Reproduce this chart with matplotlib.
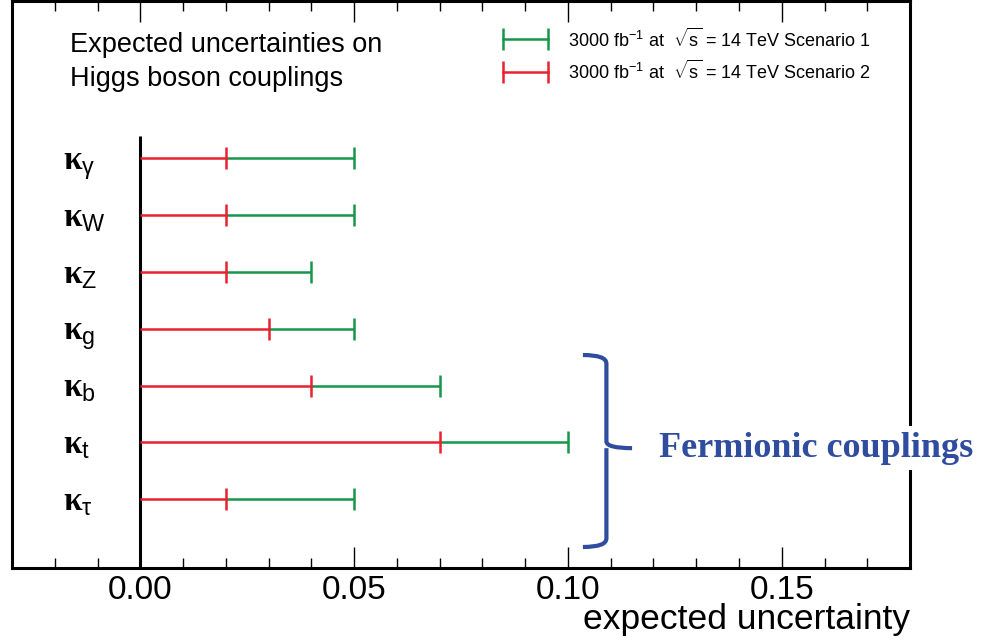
import matplotlib
matplotlib.use("Agg")
import matplotlib.pyplot as plt
import matplotlib.transforms as mtransforms
from matplotlib.path import Path
from matplotlib.patches import PathPatch

plt.rcParams['font.family'] = ['Liberation Sans', 'DejaVu Sans']
plt.rcParams['mathtext.fontset'] = 'custom'
plt.rcParams['mathtext.rm'] = 'Liberation Sans'
plt.rcParams['mathtext.it'] = 'Liberation Sans:italic'
plt.rcParams['mathtext.bf'] = 'Liberation Serif:bold'

## donnees
couplings = [r'$\mathbf{\kappa}_{\mathrm{\gamma}}$', r'$\mathbf{\kappa}_{\mathrm{W}}$',
             r'$\mathbf{\kappa}_{\mathrm{Z}}$', r'$\mathbf{\kappa}_{\mathrm{g}}$',
             r'$\mathbf{\kappa}_{\mathrm{b}}$', r'$\mathbf{\kappa}_{\mathrm{t}}$',
             r'$\mathbf{\kappa}_{\mathrm{\tau}}$']
scen1 = [0.05, 0.05, 0.04, 0.05, 0.07, 0.10, 0.05]   # vert
scen2 = [0.02, 0.02, 0.02, 0.03, 0.04, 0.07, 0.02]   # rouge
xticks = [0.00, 0.05, 0.10, 0.15]
xticklabels = ['0.00', '0.05', '0.10', '0.15']
leg1 = r'3000 fb$^{-1}$ at  $\sqrt{\mathrm{s}}$ = 14 TeV Scenario 1'
leg2 = r'3000 fb$^{-1}$ at  $\sqrt{\mathrm{s}}$ = 14 TeV Scenario 2'

vert = '#17964a'
rouge = '#e8212e'
bleu = '#2f4c9f'

fig = plt.figure(figsize=(9.91, 6.44), dpi=100)
ax = fig.add_axes([0.0121, 0.118, 0.9062, 0.8802])

ypos = list(range(len(couplings)))
cap = 16

for i in ypos:
    ax.hlines(i, 0, scen2[i], color=rouge, lw=1.8, zorder=3)
    ax.hlines(i, scen2[i], scen1[i], color=vert, lw=1.8, zorder=3)
    ax.plot([scen1[i]], [i], marker='|', ms=cap, mew=1.8, color=vert, ls='none', zorder=4)
    ax.plot([scen2[i]], [i], marker='|', ms=cap, mew=1.8, color=rouge, ls='none', zorder=5)

# axe vertical a zero
ax.vlines(0, -0.4, 7.25, color='black', lw=2.2, zorder=2)

ax.set_xlim(-0.03, 0.18)
ax.set_ylim(7.21, -2.77)
ax.set_yticks([])
ax.set_xticks(xticks)
ax.set_xticklabels(xticklabels, fontsize=24)
ax.set_xticks([k / 100 for k in range(-2, 18)], minor=True)
ax.tick_params(axis='x', which='both', direction='in', top=True, bottom=True, width=1.0, pad=5)
ax.tick_params(axis='x', which='major', length=15)
ax.tick_params(axis='x', which='minor', length=7.5)
for s in ax.spines.values():
    s.set_linewidth(2.2)

ax.set_xlabel('expected uncertainty', fontsize=25.5, loc='right', labelpad=-2)

# etiquettes kappa
trans = mtransforms.blended_transform_factory(ax.transAxes, ax.transData)
trans = trans + mtransforms.ScaledTranslation(0, -8 / 72, fig.dpi_scale_trans)
for i in ypos:
    ax.text(0.057, i, couplings[i], transform=trans, fontsize=24, ha='left', va='baseline')

# titre
ax.text(0.065, 0.922, 'Expected uncertainties on', transform=ax.transAxes, fontsize=19.5, va='center')
ax.text(0.065, 0.862, 'Higgs boson couplings', transform=ax.transAxes, fontsize=19.5, va='center')

# legende
for yl, col, txt in [(0.9325, vert, leg1), (0.8757, rouge, leg2)]:
    ax.plot([0.547, 0.597], [yl, yl], color=col, lw=1.8, transform=ax.transAxes)
    ax.plot([0.547, 0.597], [yl, yl], color=col, marker='|', ms=cap, mew=1.8, ls='none',
            transform=ax.transAxes)
    ax.text(0.619, yl, txt, transform=ax.transAxes, fontsize=13, va='center')

# accolade
xv, xh, xt = 0.109, 0.1035, 0.115
yt, ym, yb = 3.46, 5.10, 6.84
verts = [(xh, yt), (xv, yt), (xv, yt + 0.15),
         (xv, ym - 0.12), (xv, ym), (xt, ym),
         (xv, ym), (xv, ym + 0.12), (xv, yb - 0.15),
         (xv, yb), (xh, yb)]
codes = [Path.MOVETO, Path.CURVE3, Path.CURVE3,
         Path.LINETO, Path.CURVE3, Path.CURVE3,
         Path.MOVETO, Path.CURVE3, Path.LINETO,
         Path.CURVE3, Path.CURVE3]
ax.add_patch(PathPatch(Path(verts, codes), fill=False, edgecolor=bleu, lw=3, zorder=6))

ax.text(0.1212, ym, 'Fermionic couplings', fontsize=26, color=bleu, fontweight='bold',
        family='Liberation Serif', va='center', ha='left', clip_on=False, zorder=10,
        bbox=dict(facecolor='white', edgecolor='none', pad=4))

fig.savefig('out.png', dpi=100)
